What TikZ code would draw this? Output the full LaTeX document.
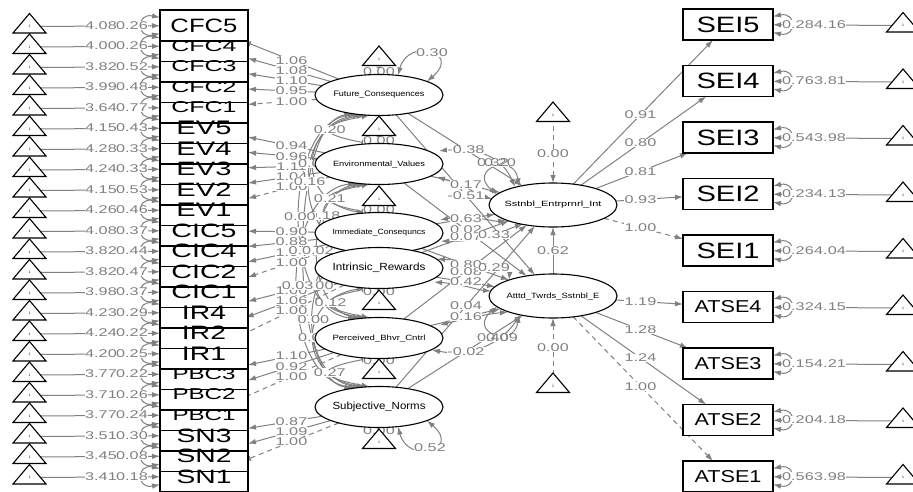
\documentclass[tikz,border=0pt]{standalone}
\usepackage{graphicx}
\usepackage{fontspec}
\setmainfont{Liberation Sans}
\usetikzlibrary{arrows.meta,calc,shapes.geometric}
\pgfdeclarelayer{edges}
\pgfdeclarelayer{labels}
\pgfsetlayers{edges,labels,main}
\definecolor{eg}{RGB}{128,128,128}
\newcommand{\elab}[1]{\scalebox{1.45}[1]{\fontsize{11.2}{11.2}\selectfont #1}}
\newcommand{\fitlab}[3]{\resizebox{#1pt}{#2pt}{#3}}
\newcommand{\semtri}[3]{%
  \draw[trishape] (#2-16.5,#3+19.5) -- (#2,#3) -- (#2+16.5,#3+19.5) -- cycle;
  \node[onetxt] (#1) at (#2,#3+13) {1};}
\newcommand{\covcurve}[7]{%
  \begin{pgfonlayer}{edges}
    \draw[covarrow] (#1.#3) .. controls +(-#5,10) and +(-#5,-10) .. (#2.#4);
  \end{pgfonlayer}
  \begin{pgfonlayer}{labels}
    \path (#1.#3) .. controls +(-#5,10) and +(-#5,-10) .. (#2.#4) node[edgelab,pos=0.5] (#7) {\elab{#6}};
  \end{pgfonlayer}}
\tikzset{
  obsbox/.style={draw=black,line width=1.1pt,fill=white,minimum width=88pt,minimum height=31pt,inner sep=0pt,outer sep=0pt},
  obsboxR/.style={obsbox,minimum width=90pt},
  latell/.style={ellipse,draw=black,line width=1.1pt,fill=white,minimum width=128pt,minimum height=41pt,inner sep=0pt,outer sep=0pt},
  latellE/.style={latell,minimum height=44pt},
  boxtxt/.style={inner sep=0pt,text=black},
  edgelab/.style={text=eg,fill=white,inner sep=0.4pt},
  edgelabnf/.style={edgelab,fill=none},
  onetxt/.style={inner sep=0.3pt,text=black,font=\fontsize{3.5}{4}\selectfont},
  trishape/.style={draw=black,line width=1.1pt,fill=white,line join=miter},
  regarrow/.style={draw=eg,line width=1pt,-{Latex[length=8pt,width=5.5pt]}},
  fixarrow/.style={regarrow,dash pattern=on 5pt off 4pt},
  covarrow/.style={draw=eg,line width=1pt,{Latex[length=8pt,width=5.5pt]}-{Latex[length=8pt,width=5.5pt]}}
}
\begin{document}
\begin{tikzpicture}[x=1pt,y=-1pt]
\useasboundingbox (0,0) rectangle (913,491);

% ---------- left indicator boxes (drawn bottom to top)
\foreach \nm [count=\k from 0] in {SN1,SN2,SN3,PBC1,PBC2,PBC3,IR1,IR2,IR4,CIC1,CIC2,CIC4,CIC5,EV1,EV2,EV3,EV4,EV5,CFC1,CFC2,CFC3,CFC4,CFC5}{
  \pgfmathsetmacro\yy{25.5+20.5*(22-\k)}
  \node[obsbox] (\nm) at (204,\yy) {};
}
\foreach \nm/\bw/\bh/\ia/\rv [count=\k from 0] in {SN1/55/13.5/3.41/0.18, SN2/55/13.5/3.45/0.08, SN3/55/13.5/3.51/0.30, PBC1/63/11/3.77/0.24, PBC2/63/11/3.71/0.26, PBC3/63/11/3.77/0.22, IR1/44/13.5/4.20/0.25, IR2/44/13.5/4.24/0.22, IR4/44/13.5/4.23/0.29, CIC1/65/13.5/3.98/0.37, CIC2/65/13.5/3.82/0.47, CIC4/65/13.5/3.82/0.44, CIC5/65/13.5/4.08/0.37, EV1/55/13.5/4.26/0.46, EV2/55/13.5/4.15/0.53, EV3/55/13.5/4.24/0.33, EV4/55/13.5/4.28/0.33, EV5/55/13.5/4.15/0.43, CFC1/65/11/3.64/0.77, CFC2/65/11/3.99/0.48, CFC3/65/11/3.82/0.52, CFC4/65/11/4.00/0.26, CFC5/67/13.5/4.08/0.26}{
  \pgfmathsetmacro\yy{25.5+20.5*(22-\k)}
  \node[boxtxt] (t\nm) at (204,\yy) {\fitlab{\bw}{\bh}{\nm}};
  \semtri{L\nm}{29.5}{\yy-12}
  \begin{pgfonlayer}{edges}
    \draw[regarrow] (L\nm) -- (\nm);
    \draw[covarrow] ($(\nm.west)+(0,-8)$) .. controls +(-24,-5) and +(-24,5) .. ($(\nm.west)+(0,8)$);
  \end{pgfonlayer}
  \begin{pgfonlayer}{labels}
    \node[edgelab] (i\nm) at (101,\yy) {\elab{\ia}};
    \node[edgelab] (v\nm) at (132,\yy) {\elab{\rv}};
  \end{pgfonlayer}
}

% ---------- right indicator boxes
\foreach \nm/\bw/\bh/\rv/\ia [count=\k from 0] in {SEI5/63/15.5/0.28/4.16, SEI4/63/15.5/0.76/3.81, SEI3/63/15.5/0.54/3.98, SEI2/63/15.5/0.23/4.13, SEI1/63/15.5/0.26/4.04, ATSE4/67/12/0.32/4.15, ATSE3/67/12/0.15/4.21, ATSE2/67/12/0.20/4.18, ATSE1/67/12/0.56/3.98}{
  \pgfmathsetmacro\yy{24.5+56.5*\k}
  \node[obsboxR] (\nm) at (728,\yy) {};
  \node[boxtxt] (t\nm) at (728,\yy) {\fitlab{\bw}{\bh}{\nm}};
  \semtri{R\nm}{903}{\yy-12}
  \begin{pgfonlayer}{edges}
    \draw[regarrow] (R\nm) -- (\nm);
    \draw[covarrow] ($(\nm.east)+(0,-8)$) .. controls +(24,-5) and +(24,5) .. ($(\nm.east)+(0,8)$);
  \end{pgfonlayer}
  \begin{pgfonlayer}{labels}
    \node[edgelab] (v\nm) at (798,\yy) {\elab{\rv}};
    \node[edgelab] (i\nm) at (830,\yy) {\elab{\ia}};
  \end{pgfonlayer}
}

% ---------- latent variables
\node[latell] (FC) at (379,95) {};
\node[boxtxt] (tFC) at (FC) {\fitlab{91}{5.5}{Future\_Consequences}};
\node[latell] (EV) at (379,164) {};
\node[boxtxt] (tEV) at (EV) {\fitlab{92}{5.5}{Environmental\_Values}};
\node[latell] (IC) at (379,233) {};
\node[boxtxt] (tIC) at (IC) {\fitlab{93}{5.5}{Immediate\_Consequncs}};
\node[latell] (IR) at (379,268) {};
\node[boxtxt] (tIR) at (IR) {\fitlab{93}{7.5}{Intrinsic\_Rewards}};
\node[latell] (PBC) at (379,338) {};
\node[boxtxt] (tPBC) at (PBC) {\fitlab{93}{5.5}{Perceived\_Bhvr\_Cntrl}};
\node[latell] (SN) at (379,407) {};
\node[boxtxt] (tSN) at (SN) {\fitlab{93}{7.5}{Subjective\_Norms}};
\node[latellE] (S) at (553,205) {};
\node[boxtxt] (tS) at (S) {\fitlab{97}{5.5}{Sstnbl\_Entrprnrl\_Int}};
\node[latellE] (A) at (553,296) {};
\node[boxtxt] (tA) at (A) {\fitlab{93}{5.5}{Atttd\_Twrds\_Sstnbl\_E}};

% ---------- intercept triangles of latents
\semtri{oFC}{379}{46}
\semtri{oEV}{379}{116}
\semtri{oIC}{379}{186}
\semtri{oIR}{379}{290}
\semtri{oPBC}{379}{359}
\semtri{oSN}{379}{429}
\semtri{oS}{553}{102}
\semtri{oA}{553}{373}

\begin{pgfonlayer}{edges}
  \foreach \lv in {FC,EV,IC,IR,PBC,SN,S,A}{\draw[fixarrow] (o\lv) -- (\lv);}
\end{pgfonlayer}
\begin{pgfonlayer}{labels}
  \node[edgelab] (zFC) at (379,72) {\elab{0.00}};
  \node[edgelab] (zEV) at (379,141) {\elab{0.00}};
  \node[edgelab] (zIC) at (379,210) {\elab{0.00}};
  \node[edgelab] (zIR) at (379,292) {\elab{0.00}};
  \node[edgelab] (zPBC) at (379,361) {\elab{0.00}};
  \node[edgelab] (zSN) at (379,431) {\elab{0.00}};
  \node[edgelab] (zS) at (553,154) {\elab{0.00}};
  \node[edgelab] (zA) at (553,348) {\elab{0.00}};
\end{pgfonlayer}

% ---------- loadings
\foreach \lv/\ov/\val/\st in {FC/CFC5/1.06/regarrow, FC/CFC4/1.08/regarrow, FC/CFC3/1.10/regarrow, FC/CFC2/0.95/regarrow, FC/CFC1/1.00/fixarrow, EV/EV5/0.94/regarrow, EV/EV4/0.96/regarrow, EV/EV3/1.11/regarrow, EV/EV2/1.04/regarrow, EV/EV1/1.00/fixarrow, IC/CIC5/0.90/regarrow, IC/CIC4/0.88/regarrow, IC/CIC2/1.04/regarrow, IC/CIC1/1.00/fixarrow, IR/IR4/1.00/regarrow, IR/IR2/1.06/regarrow, IR/IR1/1.00/fixarrow, PBC/PBC3/1.10/regarrow, PBC/PBC2/0.92/regarrow, PBC/PBC1/1.00/fixarrow, SN/SN3/0.87/regarrow, SN/SN2/1.09/regarrow, SN/SN1/1.00/fixarrow, S/SEI5/0.91/regarrow, S/SEI4/0.80/regarrow, S/SEI3/0.81/regarrow, S/SEI2/0.93/regarrow, S/SEI1/1.00/fixarrow, A/ATSE4/1.19/regarrow, A/ATSE3/1.28/regarrow, A/ATSE2/1.24/regarrow, A/ATSE1/1.00/fixarrow}{
  \begin{pgfonlayer}{edges}
    \draw[\st] (\lv) -- (\ov);
  \end{pgfonlayer}
  \begin{pgfonlayer}{labels}
    \node[edgelab] (l\ov) at ($(\lv)!0.5!(\ov)$) {\elab{\val}};
  \end{pgfonlayer}
}

% ---------- regressions
\foreach \ex/\en/\val in {FC/S/-0.38, FC/A/-0.51, EV/S/0.17, EV/A/0.02, IC/S/0.63, IC/A/0.80, IR/S/0.07, IR/A/0.42, PBC/S/0.08, PBC/A/0.16, SN/S/0.04, SN/A/-0.02, A/S/0.62}{
  \begin{pgfonlayer}{edges}
    \draw[regarrow] (\ex) -- (\en);
  \end{pgfonlayer}
  \begin{pgfonlayer}{labels}
    \node[edgelab] (r\ex\en) at ($(\ex)!0.5!(\en)$) {\elab{\val}};
  \end{pgfonlayer}
}

% ---------- covariances among exogenous latents
\covcurve{FC}{EV}{245}{115}{53}{0.20}{cFCEV}
\covcurve{EV}{IC}{245}{115}{53}{0.21}{cEVIC}
\covcurve{IR}{PBC}{245}{115}{52}{0.12}{cIRPBC}
\covcurve{PBC}{SN}{245}{115}{53}{0.27}{cPBCSN}
\covcurve{FC}{IC}{235}{125}{68}{0.00}{cFCIC}
\covcurve{EV}{IR}{235}{125}{54}{0.18}{cEVIR}
\covcurve{IC}{PBC}{235}{125}{63}{0.00}{cICPBC}
\covcurve{IR}{SN}{235}{125}{68}{0.00}{cIRSN}
\covcurve{FC}{IR}{227}{133}{68}{0.16}{cFCIR}
\covcurve{IC}{SN}{227}{133}{63}{0.00}{cICSN}
\covcurve{FC}{PBC}{220}{140}{75}{0.00}{cFCPBC}
\covcurve{EV}{SN}{220}{140}{78}{0.03}{cEVSN}
\covcurve{FC}{SN}{215}{145}{64}{0.00}{cFCSN}
\covcurve{EV}{PBC}{227}{133}{57}{0.02}{cEVPBC}
\begin{pgfonlayer}{edges}
  \draw[covarrow] (IC.245) .. controls +(-30,10) and +(-30,-10) .. (IR.115);
\end{pgfonlayer}

% ---------- curved edges at the endogenous latents
\begin{pgfonlayer}{edges}
  \draw[covarrow] ($(EV)+(60,-13)$) .. controls (468,147) and (500,152) .. ($(S)+(-38,-18)$);
  \draw[covarrow] ($(EV)+(58,13)$) .. controls (465,185) and (478,195) .. ($(S)+(-61,-6)$);
  \draw[covarrow] ($(IC)+(61,-13)$) .. controls (470,214) and (495,222) .. ($(S)+(-47,15)$);
  \draw[covarrow] ($(IC)+(62,8)$) .. controls (485,242) and (505,230) .. ($(S)+(-30,19)$);
  \draw[covarrow] ($(IR)+(58,-9)$) .. controls (490,262) and (510,270) .. ($(A)+(-44,-16)$);
  \draw[covarrow] ($(IR)+(55,14)$) .. controls (462,284) and (478,290) .. ($(A)+(-62,-5)$);
  \draw[covarrow] ($(PBC)+(61,-13)$) .. controls (468,318) and (488,314) .. ($(A)+(-45,16)$);
  \draw[covarrow] ($(PBC)+(53,12)$) .. controls (470,357) and (500,345) .. ($(A)+(-33,19)$);
  % residual variance loops
  \draw[covarrow] ($(FC)+(19,-19.6)$) .. controls +(10,-38) and +(35,-30) .. ($(FC)+(48,-13.6)$);
  \draw[covarrow] ($(SN)+(19,19.6)$) .. controls +(10,38) and +(35,30) .. ($(SN)+(48,13.6)$);
  \draw[covarrow] ($(S)+(-34,-18.6)$) .. controls +(-5,-35) and +(-30,-25) .. ($(S)+(-56,-10.6)$);
  \draw[covarrow] ($(A)+(-34,18.6)$) .. controls +(-5,35) and +(-30,25) .. ($(A)+(-56,10.6)$);
\end{pgfonlayer}
\begin{pgfonlayer}{labels}
  \node[edgelab] (k33) at (494,235) {\elab{0.33}};
  \node[edgelab] (k29) at (494,268) {\elab{0.29}};
  \node[edgelab] (vFC) at (432,53) {\elab{0.30}};
  \node[edgelab] (vSN) at (430,448) {\elab{0.52}};
  \node[edgelab] (vS1) at (493,163) {\elab{0.32}};
  \node[edgelabnf] (vS2) at (500,163) {\elab{0.20}};
  \node[edgelab] (vA1) at (493,338) {\elab{0.40}};
  \node[edgelabnf] (vA2) at (502,338) {\elab{0.09}};
\end{pgfonlayer}
\end{tikzpicture}
\end{document}
